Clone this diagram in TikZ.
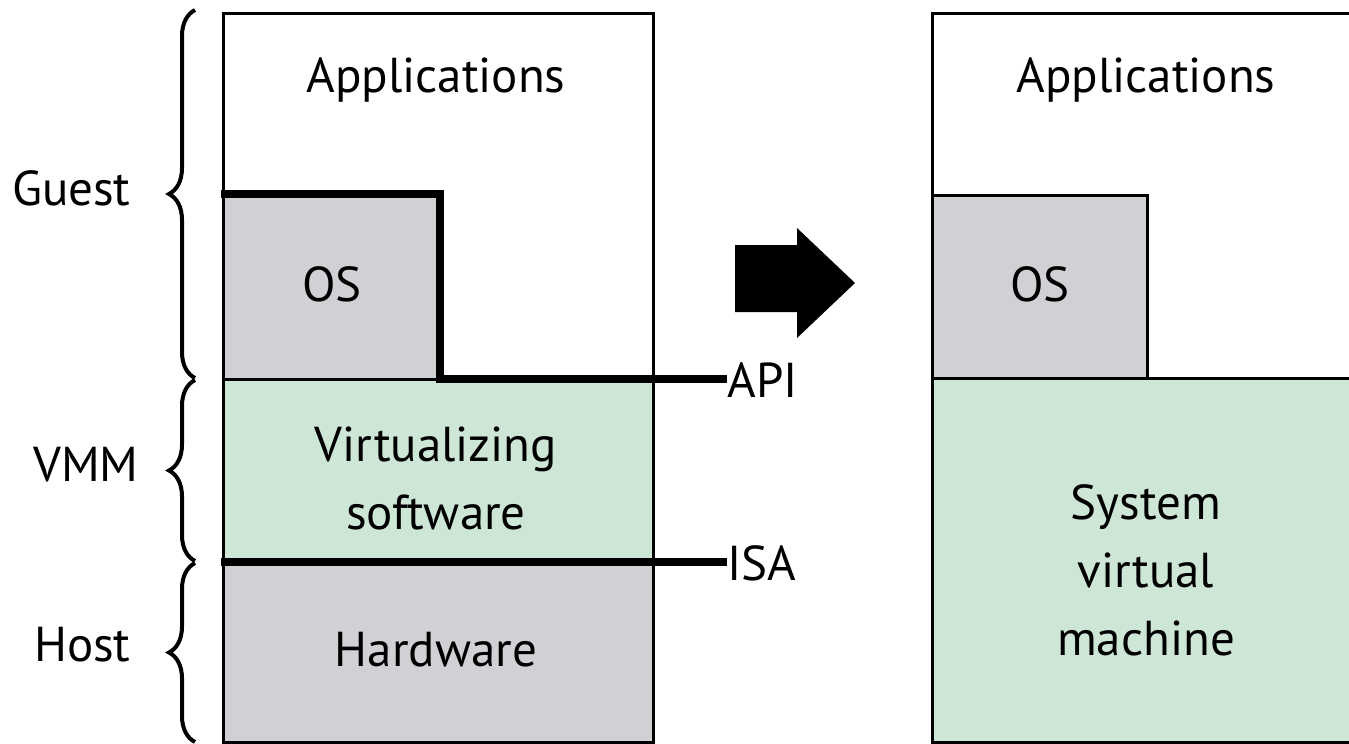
\documentclass[tikz,border=0pt]{standalone}
\usepackage{fontspec}
\setmainfont{PT Sans}
\usetikzlibrary{decorations.pathreplacing}
\definecolor{hwgray}{RGB}{208,209,212}
\definecolor{vmgreen}{RGB}{205,230,214}
\tikzset{
  layer/.style={draw=black, line width=1.5pt, inner sep=0pt, outer sep=0pt, anchor=north west},
  lbl/.style={font=\fontsize{24.5}{34}\selectfont, align=center, inner sep=0pt},
  thickline/.style={line width=4pt},
  bracestyle/.style={line width=2pt, decorate, decoration={brace, amplitude=13pt}},
}
\begin{document}
\begin{tikzpicture}[x=0.5pt,y=-0.5pt]
\useasboundingbox (0,0) rectangle (1349,744);
\clip (0,0) rectangle (1349,744);
% ---------- left stack ----------
\node[layer, fill=white, minimum width=215pt, minimum height=183pt] (lapps) at (223,13) {};
\node[layer, fill=hwgray, minimum width=108.5pt, minimum height=92.5pt] (los) at (223,194) {};
\node[layer, fill=vmgreen, minimum width=215pt, minimum height=91.5pt] (lvs) at (223,379) {};
\node[layer, fill=hwgray, minimum width=215pt, minimum height=90pt] (lhw) at (223,562) {};
\node[lbl] (tapps) at (436,80) {Applications};
\node[lbl] (tos) at (332,284) {OS};
\node[lbl] (tvs) at (436,478) {Virtualizing\\software};
\node[lbl] (thw) at (436,650) {Hardware};
% interfaces
\node[lbl, anchor=west] (api) at (727,380) {API};
\node[lbl, anchor=west] (isa) at (727,563) {ISA};
\coordinate (apistart) at (221,194);
\draw[thickline] (apistart) -| (los.south east) -- (api.west |- los.south east);
\coordinate (isastart) at (221,562);
\draw[thickline] (isastart) -- (isastart -| isa.west);
% braces and labels
\draw[bracestyle] (195,378) -- (195,10);
\draw[bracestyle] (195,561) -- (195,380);
\draw[bracestyle] (195,742) -- (195,563);
\node[lbl, anchor=east] (guest) at (131,188) {Guest};
\node[lbl, anchor=east] (vmm) at (139,465) {VMM};
\node[lbl, anchor=east] (host) at (131,645) {Host};
% arrow
\fill[black] (735,245) -- (797,245) -- (797,228) -- (855,283) -- (797,338) -- (797,312) -- (735,312) -- cycle;
% ---------- right stack ----------
\node[layer, fill=white, minimum width=215pt, minimum height=182.5pt] (rapps) at (932,13) {};
\node[layer, fill=hwgray, minimum width=107.5pt, minimum height=91.5pt] (ros) at (932,195) {};
\node[layer, fill=vmgreen, minimum width=215pt, minimum height=182pt] (rvm) at (932,378) {};
\node[lbl] (trapps) at (1146,80) {Applications};
\node[lbl] (tros) at (1040,284) {OS};
\node[lbl] (tsvm) at (1146,570) {System\\virtual\\machine};
\end{tikzpicture}
\end{document}
